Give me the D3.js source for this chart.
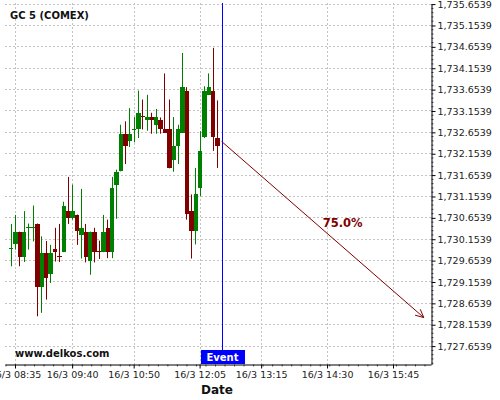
<!DOCTYPE html>
<html>
<head>
<meta charset="utf-8">
<script src="https://cdn.jsdelivr.net/npm/d3@7"></script>
<style>
  body { margin: 0; background: #fff; }
  svg { display: block; font-family: "DejaVu Sans", sans-serif; }
</style>
</head>
<body>
<svg id="chart" width="500" height="400"></svg>
<script>
// 5 minute candles, 16/3
var times = ['08:30','08:35','08:40','08:45','08:50','08:55','09:00','09:05','09:10','09:15','09:20','09:25',
             '09:30','09:35','09:40','09:45','09:50','09:55','10:00','10:05','10:10','10:15','10:20','10:25',
             '10:30','10:35','10:40','10:45','10:50','10:55','11:00','11:05','11:10','11:15','11:20','11:25',
             '11:30','11:35','11:40','11:45','11:50','11:55','12:00','12:05','12:10','12:15','12:20','12:25'];
var opens  = [1729.93,1730.02,1730.32,1729.72,1730.42,1730.42,1730.51,1729.02,1729.83,1729.32,1729.92,1729.74,
              1729.84,1730.81,1730.63,1730.72,1730.23,1730.32,1729.63,1730.32,1729.86,1729.84,1730.41,1729.84,
              1731.42,1731.73,1732.61,1732.43,1732.71,1732.71,1733.03,1732.92,1733.01,1732.82,1732.92,1732.71,
              1732.71,1732.00,1732.32,1732.63,1733.62,1730.81,1730.33,1731.33,1732.53,1733.52,1733.62,1732.51];
var highs  = [1730.50,1730.71,1730.32,1730.80,1730.51,1730.93,1730.51,1730.21,1730.10,1730.01,1730.41,1730.50,
              1731.02,1731.60,1731.42,1730.72,1731.32,1730.50,1730.32,1730.41,1730.11,1730.71,1730.60,1731.60,
              1731.77,1732.82,1732.90,1733.21,1733.00,1733.62,1733.41,1733.52,1733.10,1733.19,1732.99,1734.02,
              1733.41,1733.00,1732.82,1734.50,1733.70,1731.19,1731.81,1732.67,1733.72,1734.02,1734.62,1733.39];
var lows   = [1729.51,1729.90,1729.51,1729.61,1729.90,1730.09,1728.34,1728.42,1728.73,1729.12,1729.62,1729.61,
              1729.84,1730.50,1730.60,1730.01,1729.69,1729.60,1729.31,1729.60,1729.68,1729.84,1729.70,1729.70,
              1730.62,1731.73,1731.90,1732.30,1732.41,1732.51,1732.71,1732.68,1732.61,1732.61,1732.61,1732.63,
              1731.80,1731.72,1731.90,1732.63,1730.60,1729.69,1730.02,1731.15,1732.51,1733.52,1732.21,1731.81];
var closes = [1729.94,1730.32,1729.72,1730.32,1730.43,1730.43,1729.02,1729.83,1729.23,1729.83,1729.84,1729.73,
              1730.93,1730.63,1730.81,1730.33,1730.41,1729.72,1730.32,1729.84,1729.85,1730.32,1729.84,1731.33,
              1731.72,1732.61,1732.32,1732.61,1732.72,1733.10,1733.01,1733.01,1732.92,1733.01,1732.71,1732.63,
              1731.82,1732.32,1732.71,1733.71,1730.73,1730.33,1731.21,1732.21,1733.62,1733.71,1732.53,1732.32];

var xTickTimes = ['08:35','09:40','10:50','12:05','13:15','14:30','15:45'];
var yTicks = [1727.6539,1728.1539,1728.6539,1729.1539,1729.6539,1730.1539,1730.6539,1731.1539,1731.6539,
              1732.1539,1732.6539,1733.1539,1733.6539,1734.1539,1734.6539,1735.1539,1735.6539];

var eventTime = '12:30';
var forecastStart = 1732.43;
var forecastEndTime = '16:20';
var forecastEnd = 1728.31;
var forecastLabel = '75.0%';

var UP = '#008000', DOWN = '#800000';

function toDate(s) {
  var p = s.split(':');
  return new Date(2021, 2, 16, +p[0], +p[1], p[2] ? +p[2] : 0);
}

var candles = times.map(function(t, i) {
  return {date: toDate(t), o: opens[i], h: highs[i], l: lows[i], c: closes[i]};
});

var pLeft = 5, pRight = 431, pTop = 3, pBottom = 364;

var x = d3.scaleTime()
  .domain([toDate('08:23:38'), toDate('16:28:13')])
  .range([pLeft, pRight]);
var y = d3.scaleLinear()
  .domain([1727.2235, 1735.668])
  .range([pBottom, pTop]);

var svg = d3.select('#chart');
svg.append('rect').attr('width', 500).attr('height', 400).attr('fill', '#fff');

// grid
var grid = svg.append('g').attr('stroke', '#c4c4c4').attr('stroke-dasharray', '2,2').attr('stroke-width', 1);
grid.selectAll('line.h').data(yTicks).enter().append('line')
  .attr('x1', pLeft).attr('x2', pRight)
  .attr('y1', d => Math.round(y(d)) + 0.5).attr('y2', d => Math.round(y(d)) + 0.5);
grid.selectAll('line.v').data(xTickTimes).enter().append('line')
  .attr('y1', pTop).attr('y2', pBottom)
  .attr('x1', d => Math.round(x(toDate(d))) + 0.5).attr('x2', d => Math.round(x(toDate(d))) + 0.5);

// candles
var half = (x(toDate('08:35')) - x(toDate('08:30'))) / 2;
var cg = svg.append('g');
cg.selectAll('line.wick').data(candles).enter().append('line')
  .attr('x1', d => Math.round(x(d.date)) + 0.5)
  .attr('x2', d => Math.round(x(d.date)) + 0.5)
  .attr('y1', d => y(d.h))
  .attr('y2', d => y(d.l))
  .attr('stroke', d => d.c >= d.o ? UP : DOWN)
  .attr('stroke-width', 1);
cg.selectAll('rect.body').data(candles).enter().append('rect')
  .attr('x', d => Math.round(x(d.date) - half + 0.5))
  .attr('width', d => Math.round(x(d.date) + half + 0.5) - Math.round(x(d.date) - half + 0.5))
  .attr('y', d => y(Math.max(d.o, d.c)))
  .attr('height', d => Math.max(1, Math.abs(y(d.o) - y(d.c))))
  .attr('fill', d => d.c >= d.o ? UP : DOWN)
  .attr('shape-rendering', 'crispEdges');

// event line
var ex = Math.round(x(toDate(eventTime))) + 0.5;
svg.append('line')
  .attr('x1', ex).attr('x2', ex).attr('y1', pTop).attr('y2', pBottom)
  .attr('stroke', '#0000ff').attr('stroke-width', 1);

// forecast arrow
var ax1 = x(toDate(eventTime)), ay1 = y(forecastStart);
var ax2 = x(toDate(forecastEndTime)), ay2 = y(forecastEnd);
var ang = Math.atan2(ay2 - ay1, ax2 - ax1);
var hl = 9, ha = 0.45;
var ag = svg.append('g').attr('stroke', DOWN).attr('stroke-width', 1).attr('fill', 'none');
ag.append('line').attr('x1', ax1).attr('y1', ay1).attr('x2', ax2).attr('y2', ay2);
ag.append('path').attr('d',
  'M' + (ax2 - hl * Math.cos(ang - ha)) + ',' + (ay2 - hl * Math.sin(ang - ha)) +
  'L' + ax2 + ',' + ay2 +
  'L' + (ax2 - hl * Math.cos(ang + ha)) + ',' + (ay2 - hl * Math.sin(ang + ha)));
svg.append('text')
  .attr('x', (ax1 + ax2) / 2 + 20)
  .attr('y', (ay1 + ay2) / 2 - 2)
  .attr('text-anchor', 'middle')
  .attr('font-size', '11.5px').attr('font-weight', 'bold')
  .attr('fill', DOWN)
  .text(forecastLabel);

// axes
var fmt = d3.format(',.4f');
var yMinor = [];
yTicks.forEach(function(v) {
  for (var k = 1; k < 5; k++) yMinor.push(v + k * 0.1);
});
yMinor = yMinor.filter(v => v < y.domain()[1]);
yMinor.push(yTicks[0] - 0.1, yTicks[0] - 0.2, yTicks[0] - 0.3, yTicks[0] - 0.4);

svg.append('g')
  .attr('transform', 'translate(' + (pRight + 0.5) + ',0)')
  .call(d3.axisRight(y).tickValues(yMinor).tickSize(2).tickSizeOuter(0).tickFormat(''))
  .call(g => g.select('.domain').remove())
  .selectAll('line').attr('stroke', '#555');

var yAxis = svg.append('g')
  .attr('transform', 'translate(' + (pRight + 0.5) + ',0.5)')
  .call(d3.axisRight(y).tickValues(yTicks).tickSize(4).tickPadding(2).tickSizeOuter(0).tickFormat(fmt));
yAxis.selectAll('text').attr('font-size', '9.5px').attr('font-family', '"DejaVu Sans", sans-serif').attr('fill', '#222');

var xDates = xTickTimes.map(toDate);
var step = (x(xDates[1]) - x(xDates[0])) / 6;
var xMinorPx = [];
for (var px = x(xDates[0]) - step * 2; px < pRight; px += step) xMinorPx.push(px);
svg.append('g')
  .attr('transform', 'translate(0,' + (pBottom + 0.5) + ')')
  .call(d3.axisBottom(x).tickValues(xMinorPx.filter(p => p > pLeft).map(p => x.invert(p))).tickSize(2).tickSizeOuter(0).tickFormat(''))
  .call(g => g.select('.domain').remove())
  .selectAll('line').attr('stroke', '#555');

var xAxis = svg.append('g')
  .attr('transform', 'translate(0,' + (pBottom + 0.5) + ')')
  .call(d3.axisBottom(x).tickValues(xDates).tickSize(4).tickPadding(3).tickSizeOuter(0)
    .tickFormat(d => '16/3 ' + d3.timeFormat('%H:%M')(d)));
xAxis.selectAll('text').attr('font-size', '9.5px').attr('font-family', '"DejaVu Sans", sans-serif').attr('fill', '#222');

// event tag
svg.append('rect')
  .attr('x', Math.round(ex) - 22).attr('y', 350).attr('width', 44).attr('height', 14)
  .attr('fill', '#0000ff');
svg.append('text')
  .attr('x', ex).attr('y', 361)
  .attr('text-anchor', 'middle').attr('fill', '#fff')
  .attr('font-size', '10px').attr('font-weight', 'bold')
  .text('Event');

// titles
svg.append('text').attr('x', 10).attr('y', 19)
  .attr('font-size', '10px').attr('font-weight', 'bold').attr('fill', '#111')
  .text('GC 5 (COMEX)');
svg.append('text').attr('x', 15).attr('y', 357)
  .attr('font-size', '10px').attr('font-weight', 'bold').attr('fill', '#111')
  .text('www.delkos.com');
svg.append('text').attr('x', 217).attr('y', 394)
  .attr('text-anchor', 'middle')
  .attr('font-size', '12px').attr('font-weight', 'bold').attr('fill', '#111')
  .text('Date');
</script>
</body>
</html>
